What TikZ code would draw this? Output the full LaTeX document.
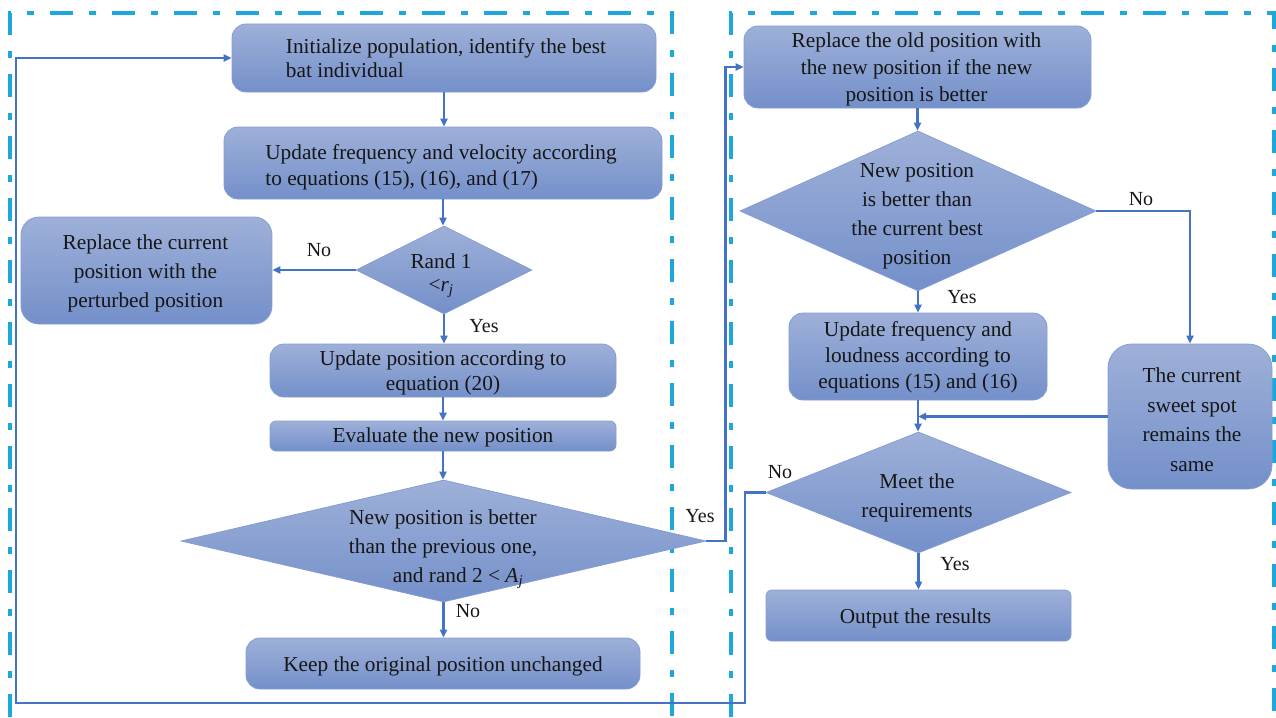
\documentclass[tikz,border=0pt]{standalone}
\usepackage{fontspec}
\setmainfont{Liberation Serif}
\usetikzlibrary{arrows.meta,shapes.geometric,calc}
\definecolor{framecol}{RGB}{30,167,219}
\definecolor{linecol}{RGB}{68,114,196}
\definecolor{boxtop}{RGB}{158,176,216}
\definecolor{boxbot}{RGB}{116,144,202}
\definecolor{boxline}{RGB}{132,158,212}
\definecolor{txtcol}{RGB}{22,22,22}
\tikzset{
  box/.style={rectangle, rounded corners=14pt, draw=boxline, line width=0.8pt,
    top color=boxtop, bottom color=boxbot, inner sep=0pt},
  dia/.style={diamond, draw=boxline, line width=0.8pt, top color=boxtop,
    bottom color=boxbot, inner sep=0pt},
  txt/.style={text=txtcol, align=center, inner sep=0pt, font=\fontsize{21.3}{29}\selectfont},
  arr/.style={draw=linecol, line width=2.2pt, -{Triangle[length=8pt,width=7pt]}},
  lbl/.style={text=txtcol, inner sep=0pt, font=\fontsize{20}{24}\selectfont},
  frame/.style={draw=framecol, line width=4pt, dash pattern=on 23pt off 16pt on 7pt off 16pt}
}
\begin{document}
\begin{tikzpicture}[x=1pt,y=-1pt]
\useasboundingbox (0,0) rectangle (1276,717);
% frames
\draw[frame] (10,717) -- (10,13) -- (672,13) -- (672,717);
\draw[frame] (731,717) -- (731,13) -- (1274,13) -- (1274,717);

% left column
\node[box, minimum width=424pt, minimum height=68pt] (init) at (444,58) {};
\node[txt, align=left, font=\fontsize{21.3}{24}\selectfont] (initt) at ($(init)+(2,0)$)
  {Initialize population, identify the best\\bat individual};
\node[box, minimum width=438pt, minimum height=72pt] (upd) at (443,163) {};
\node[txt, align=left, font=\fontsize{21.3}{26}\selectfont] (updt) at ($(upd)+(-2,4)$)
  {Update frequency and velocity according\\to equations (15), (16), and (17)};
\node[dia, minimum width=176pt, minimum height=88pt] (d1) at (444,270) {};
\node[txt, font=\fontsize{21.3}{23}\selectfont] (d1t) at (441,276) {Rand 1\\$\vphantom{A}$<\textit{r}\textsubscript{\textit{j}}};
\node[box, rounded corners=18pt, minimum width=251pt, minimum height=107pt] (rep) at (146.5,270.5) {};
\node[txt] (rept) at ($(rep)+(-1,3)$) {Replace the current\\position with the\\perturbed position};
\node[box, minimum width=346pt, minimum height=53pt] (upp) at (443,370.5) {};
\node[txt, font=\fontsize{21.3}{25}\selectfont] (uppt) at ($(upp)+(0,2)$)
  {Update position according to\\equation (20)};
\node[box, rounded corners=6pt, minimum width=346pt, minimum height=30pt] (eva) at (443,436) {};
\node[txt] (evat) at ($(eva)+(0,1)$) {Evaluate the new position};
\node[dia, minimum width=525pt, minimum height=122pt] (d2) at (443.5,541) {};
\node[txt] (d2t) at (443,549) {New position is better\\than the previous one,\\\hspace*{30pt}and rand 2 < \textit{A}\textsubscript{\textit{j}}};
\node[box, minimum width=394pt, minimum height=51pt] (keep) at (443,663.5) {};
\node[txt] (keept) at ($(keep)+(0,3)$) {Keep the original position unchanged};

% right column
\node[box, minimum width=347pt, minimum height=82pt] (rold) at (917.5,67) {};
\node[txt, font=\fontsize{21.3}{27}\selectfont] (roldt) at ($(rold)+(-1,2)$)
  {Replace the old position with\\the new position if the new\\position is better};
\node[dia, minimum width=356pt, minimum height=160pt] (d3) at (918,211) {};
\node[txt] (d3t) at (917,216) {New position\\is better than\\the current best\\position};
\node[box, minimum width=258pt, minimum height=87pt] (upl) at (918,356.5) {};
\node[txt, font=\fontsize{21.3}{26}\selectfont] (uplt) at ($(upl)+(0,0.5)$)
  {Update frequency and\\loudness according to\\equations (15) and (16)};
\node[box, rounded corners=24pt, minimum width=164pt, minimum height=145pt] (sweet) at (1190,416.5) {};
\node[txt, font=\fontsize{21.3}{29.5}\selectfont] (sweett) at ($(sweet)+(2,3)$)
  {The current\\sweet spot\\remains the\\same};
\node[dia, minimum width=305pt, minimum height=121pt] (d4) at (918.5,492.5) {};
\node[txt] (d4t) at (917,498) {Meet the\\requirements};
\node[box, rounded corners=6pt, minimum width=305pt, minimum height=51pt] (out) at (918.5,615.5) {};
\node[txt] (outt) at ($(out)+(-3,3)$) {Output the results};

% connectors left
\draw[arr] (init.south) -- (init.south |- upd.north);
\draw[arr] (upd.south) -- (upd.south |- d1.north);
\draw[arr] (d1.west) -- (d1.west -| rep.east);
\draw[arr] (d1.south) -- (d1.south |- upp.north);
\draw[arr] (upp.south) -- (upp.south |- eva.north);
\draw[arr] (eva.south) -- (eva.south |- d2.north);
\draw[arr] (d2.south) -- (d2.south |- keep.north);
\draw[arr] (d2.east) -- ++(19,0) |- (rold.west);

% connectors right
\draw[arr] (rold.south) -- (rold.south |- d3.north);
\draw[arr] (d3.south) -- (d3.south |- upl.north);
\draw[arr] (d3.east) -| (sweet.north);
\draw[arr] (upl.south) -- (upl.south |- d4.north);
\draw[arr] (sweet.west) -- (sweet.west -| upl.south);
\draw[arr] (d4.south) -- (d4.south |- out.north);
\coordinate (lb) at (16,703);
\draw[arr] (d4.west) -- ++(-21,0) coordinate (c1) -- (c1 |- lb) -- (lb) |- (init.west);

% labels
\node[lbl] (l1) at (319,250) {No};
\node[lbl] (l2) at (484,326) {Yes};
\node[lbl] (l3) at (700,516) {Yes};
\node[lbl] (l4) at (468,611) {No};
\node[lbl] (l5) at (1141,199) {No};
\node[lbl] (l6) at (962,297) {Yes};
\node[lbl] (l7) at (780,472) {No};
\node[lbl] (l8) at (955,564) {Yes};
\end{tikzpicture}
\end{document}
